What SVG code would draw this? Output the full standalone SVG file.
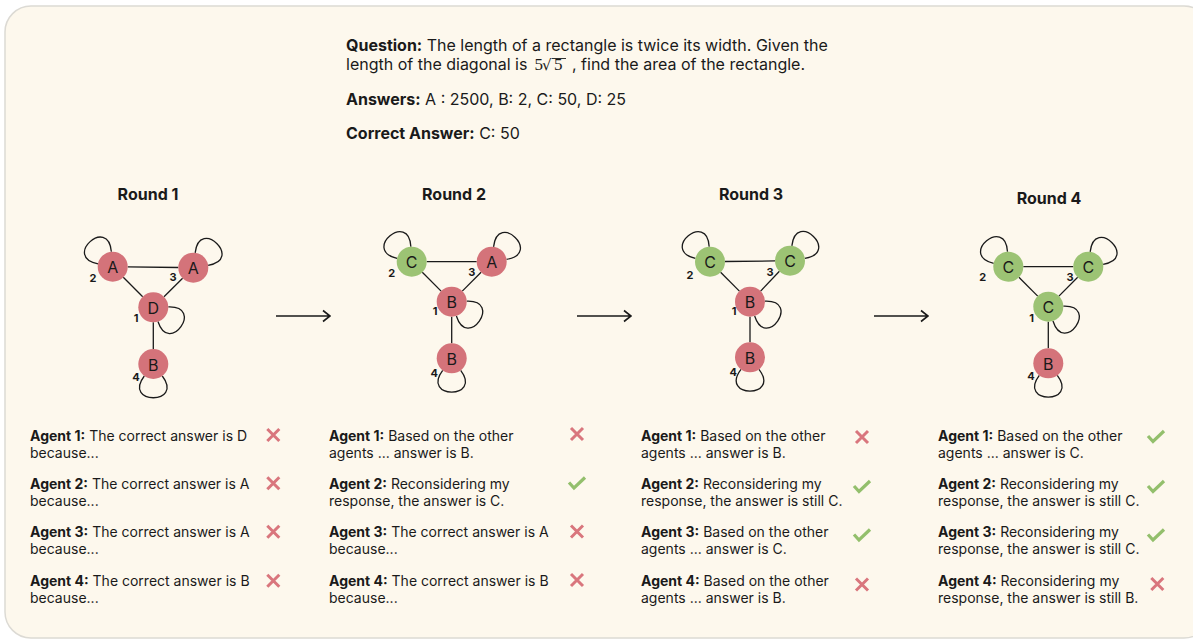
<svg xmlns="http://www.w3.org/2000/svg" width="1193" height="640" viewBox="0 0 1193 640">
<style>
  text { font-family: Inter, "Liberation Sans", sans-serif; fill: #1a1a1a; }
  .q { font-size: 16px; }
  .b { font-weight: bold; }
  .title { font-size: 16px; font-weight: bold; text-anchor: middle; }
  .ag { font-size: 14px; }
  .lbl { font-size: 11px; font-weight: bold; text-anchor: middle; }
  .nl { font-size: 16px; text-anchor: middle; dominant-baseline: central; }
  .red { fill: #d4737a; }
  .grn { fill: #9cc374; }
  .edge { stroke: #1a1a1a; stroke-width: 1.3; fill: none; }
  .loop { stroke: #1a1a1a; stroke-width: 1.3; fill: none; }
  .x { stroke: #d9767d; stroke-width: 3; fill: none; }
  .ck { stroke: #93bf6c; stroke-width: 3.2; fill: none; stroke-linejoin: miter; }
  .arr { stroke: #1a1a1a; stroke-width: 1.6; fill: none; }
  .math { font-family: "Liberation Serif", serif; font-size: 17px; }
  .rad { font-family: "DejaVu Serif", serif; font-size: 15px; }
</style>
<defs>
  <path id="lp" d="M -9,-12 C -31,-41 31,-41 9,-12"/>
  <g id="xm"><path class="x" d="M -6,-6 L 6,6 M 6,-6 L -6,6"/></g>
  <g id="cm"><path class="ck" d="M -8,-1 L -3,4.5 L 8,-6"/></g>
</defs>

<rect x="5" y="6" width="1205" height="632" rx="26" fill="#fdf8ed" stroke="#dcdad4" stroke-width="1.5"/>

<g id="question">
  <text class="q" x="346" y="51"><tspan class="b">Question:</tspan> The length of a rectangle is twice its width. Given the</text>
  <text class="q" x="346" y="70">length of the diagonal is</text>
  <text class="math" x="534.5" y="70">5<tspan class="rad" x="542" y="70">√</tspan><tspan x="554" y="70">5</tspan></text>
  <line x1="552" y1="58.5" x2="566" y2="58.5" stroke="#1a1a1a" stroke-width="0.9"/>
  <text class="q" x="572" y="70">, find the area of the rectangle.</text>
  <text class="q" x="346" y="105"><tspan class="b">Answers:</tspan> A : 2500, B: 2, C: 50, D: 25</text>
  <text class="q" x="346" y="139"><tspan class="b">Correct Answer:</tspan> C: 50</text>
</g>

<g id="titles">
  <text class="title" x="148" y="200">Round 1</text>
  <text class="title" x="454" y="200">Round 2</text>
  <text class="title" x="751" y="200">Round 3</text>
  <text class="title" x="1049" y="204">Round 4</text>
</g>

<g id="connectors">
  <!-- Round 1 -->
  <line class="edge" x1="127.7" y1="266.9" x2="178.3" y2="267.5"/>
  <line class="edge" x1="123.3" y1="277.3" x2="142.7" y2="296.7"/>
  <line class="edge" x1="182.6" y1="278.2" x2="164" y2="296.8"/>
  <line class="edge" x1="153.3" y1="322.3" x2="153.3" y2="349"/>
  <use href="#lp" class="loop" transform="translate(112.7,266.7) rotate(-42)"/>
  <use href="#lp" class="loop" transform="translate(193.3,267.7) rotate(44)"/>
  <use href="#lp" class="loop" transform="translate(153.3,307.3) rotate(125)"/>
  <use href="#lp" class="loop" transform="translate(153.3,364) rotate(180)"/>
  <!-- Round 2 -->
  <line class="edge" x1="426.7" y1="261.7" x2="476.7" y2="261.7"/>
  <line class="edge" x1="422.3" y1="272.3" x2="441.1" y2="291.1"/>
  <line class="edge" x1="481.1" y1="272.3" x2="462.3" y2="291.1"/>
  <line class="edge" x1="451.7" y1="316.7" x2="451.7" y2="343.3"/>
  <use href="#lp" class="loop" transform="translate(411.7,261.7) rotate(-40)"/>
  <use href="#lp" class="loop" transform="translate(491.7,261.7) rotate(44)"/>
  <use href="#lp" class="loop" transform="translate(451.7,301.7) rotate(125)"/>
  <use href="#lp" class="loop" transform="translate(451.7,358.3) rotate(180)"/>
  <!-- Round 3 -->
  <line class="edge" x1="725" y1="261.5" x2="775" y2="260.9"/>
  <line class="edge" x1="720.6" y1="272.3" x2="739.4" y2="291.1"/>
  <line class="edge" x1="779.4" y1="271.3" x2="760.6" y2="291.1"/>
  <line class="edge" x1="750" y1="316.7" x2="750" y2="342.3"/>
  <use href="#lp" class="loop" transform="translate(710,261.7) rotate(-40)"/>
  <use href="#lp" class="loop" transform="translate(790,260.7) rotate(44)"/>
  <use href="#lp" class="loop" transform="translate(750,301.7) rotate(125)"/>
  <use href="#lp" class="loop" transform="translate(750,357.3) rotate(180)"/>
  <!-- Round 4 -->
  <line class="edge" x1="1023.3" y1="266.7" x2="1073.3" y2="266.7"/>
  <line class="edge" x1="1018.9" y1="277.3" x2="1037.7" y2="296.1"/>
  <line class="edge" x1="1077.7" y1="277.3" x2="1058.9" y2="296.1"/>
  <line class="edge" x1="1048.3" y1="321.7" x2="1048.3" y2="348.3"/>
  <use href="#lp" class="loop" transform="translate(1008.3,266.7) rotate(-40)"/>
  <use href="#lp" class="loop" transform="translate(1088.3,266.7) rotate(44)"/>
  <use href="#lp" class="loop" transform="translate(1048.3,306.7) rotate(125)"/>
  <use href="#lp" class="loop" transform="translate(1048.3,363.3) rotate(180)"/>
  <!-- round arrows -->
  <path class="arr" d="M 276,316 L 330,316 M 323,310.5 L 330,316 L 323,321.5"/>
  <path class="arr" d="M 577,316 L 631,316 M 624,310.5 L 631,316 L 624,321.5"/>
  <path class="arr" d="M 874,316 L 928,316 M 921,310.5 L 928,316 L 921,321.5"/>
</g>

<!-- Round 1 nodes -->
<g id="r1-a2"><circle class="red" cx="112.7" cy="266.7" r="15"/><text class="nl" x="112.7" y="267.2">A</text><text class="lbl" x="93" y="282">2</text></g>
<g id="r1-a3"><circle class="red" cx="193.3" cy="267.7" r="15"/><text class="nl" x="193.3" y="268.2">A</text><text class="lbl" x="173" y="281">3</text></g>
<g id="r1-a1"><circle class="red" cx="153.3" cy="307.3" r="15"/><text class="nl" x="153.3" y="307.8">D</text><text class="lbl" x="136" y="322">1</text></g>
<g id="r1-a4"><circle class="red" cx="153.3" cy="364" r="15"/><text class="nl" x="153.3" y="364.5">B</text><text class="lbl" x="136" y="381">4</text></g>

<!-- Round 2 nodes -->
<g id="r2-a2"><circle class="grn" cx="411.7" cy="261.7" r="15"/><text class="nl" x="411.7" y="262.2">C</text><text class="lbl" x="391.7" y="276.5">2</text></g>
<g id="r2-a3"><circle class="red" cx="491.7" cy="261.7" r="15"/><text class="nl" x="491.7" y="262.2">A</text><text class="lbl" x="471.7" y="276">3</text></g>
<g id="r2-a1"><circle class="red" cx="451.7" cy="301.7" r="15"/><text class="nl" x="451.7" y="302.2">B</text><text class="lbl" x="435" y="314.5">1</text></g>
<g id="r2-a4"><circle class="red" cx="451.7" cy="358.3" r="15"/><text class="nl" x="451.7" y="358.8">B</text><text class="lbl" x="434.3" y="376.5">4</text></g>

<!-- Round 3 nodes -->
<g id="r3-a2"><circle class="grn" cx="710" cy="261.7" r="15"/><text class="nl" x="710" y="262.2">C</text><text class="lbl" x="690" y="278.8">2</text></g>
<g id="r3-a3"><circle class="grn" cx="790" cy="260.7" r="15"/><text class="nl" x="790" y="261.2">C</text><text class="lbl" x="770" y="275.8">3</text></g>
<g id="r3-a1"><circle class="red" cx="750" cy="301.7" r="15"/><text class="nl" x="750" y="302.2">B</text><text class="lbl" x="734" y="314.5">1</text></g>
<g id="r3-a4"><circle class="red" cx="750" cy="357.3" r="15"/><text class="nl" x="750" y="357.8">B</text><text class="lbl" x="733.3" y="375.5">4</text></g>

<!-- Round 4 nodes -->
<g id="r4-a2"><circle class="grn" cx="1008.3" cy="266.7" r="15"/><text class="nl" x="1008.3" y="267.2">C</text><text class="lbl" x="982.7" y="281">2</text></g>
<g id="r4-a3"><circle class="grn" cx="1088.3" cy="266.7" r="15"/><text class="nl" x="1088.3" y="267.2">C</text><text class="lbl" x="1070" y="280.5">3</text></g>
<g id="r4-a1"><circle class="grn" cx="1048.3" cy="306.7" r="15"/><text class="nl" x="1048.3" y="307.2">C</text><text class="lbl" x="1031.7" y="322">1</text></g>
<g id="r4-a4"><circle class="red" cx="1048.3" cy="363.3" r="15"/><text class="nl" x="1048.3" y="363.8">B</text><text class="lbl" x="1031" y="380">4</text></g>

<!-- Agent responses -->
<g id="responses-r1">
  <text class="ag" x="30" y="441"><tspan class="b">Agent 1:</tspan> The correct answer is D</text>
  <text class="ag" x="30" y="458">because...</text>
  <text class="ag" x="30" y="489"><tspan class="b">Agent 2:</tspan> The correct answer is A</text>
  <text class="ag" x="30" y="506">because...</text>
  <text class="ag" x="30" y="537"><tspan class="b">Agent 3:</tspan> The correct answer is A</text>
  <text class="ag" x="30" y="554">because...</text>
  <text class="ag" x="30" y="585.5"><tspan class="b">Agent 4:</tspan> The correct answer is B</text>
  <text class="ag" x="30" y="602.5">because...</text>
  <use href="#xm" transform="translate(273.3,435)"/>
  <use href="#xm" transform="translate(273.3,483.3)"/>
  <use href="#xm" transform="translate(273.3,531.7)"/>
  <use href="#xm" transform="translate(273.3,580.7)"/>
</g>
<g id="responses-r2">
  <text class="ag" x="329" y="441"><tspan class="b">Agent 1:</tspan> Based on the other</text>
  <text class="ag" x="329" y="458">agents ... answer is B.</text>
  <text class="ag" x="329" y="489"><tspan class="b">Agent 2:</tspan> Reconsidering my</text>
  <text class="ag" x="329" y="506">response, the answer is C.</text>
  <text class="ag" x="329" y="537"><tspan class="b">Agent 3:</tspan> The correct answer is A</text>
  <text class="ag" x="329" y="554">because...</text>
  <text class="ag" x="329" y="585.5"><tspan class="b">Agent 4:</tspan> The correct answer is B</text>
  <text class="ag" x="329" y="602.5">because...</text>
  <use href="#xm" transform="translate(577,434)"/>
  <use href="#cm" transform="translate(577,483.5)"/>
  <use href="#xm" transform="translate(577,531.5)"/>
  <use href="#xm" transform="translate(577,580)"/>
</g>
<g id="responses-r3">
  <text class="ag" x="641" y="441"><tspan class="b">Agent 1:</tspan> Based on the other</text>
  <text class="ag" x="641" y="458">agents ... answer is B.</text>
  <text class="ag" x="641" y="489"><tspan class="b">Agent 2:</tspan> Reconsidering my</text>
  <text class="ag" x="641" y="506">response, the answer is still C.</text>
  <text class="ag" x="641" y="537"><tspan class="b">Agent 3:</tspan> Based on the other</text>
  <text class="ag" x="641" y="554">agents ... answer is C.</text>
  <text class="ag" x="641" y="585.5"><tspan class="b">Agent 4:</tspan> Based on the other</text>
  <text class="ag" x="641" y="602.5">agents ... answer is B.</text>
  <use href="#xm" transform="translate(862,437)"/>
  <use href="#cm" transform="translate(862,487)"/>
  <use href="#cm" transform="translate(862,535.5)"/>
  <use href="#xm" transform="translate(862,584.5)"/>
</g>
<g id="responses-r4">
  <text class="ag" x="938" y="441"><tspan class="b">Agent 1:</tspan> Based on the other</text>
  <text class="ag" x="938" y="458">agents ... answer is C.</text>
  <text class="ag" x="938" y="489"><tspan class="b">Agent 2:</tspan> Reconsidering my</text>
  <text class="ag" x="938" y="506">response, the answer is still C.</text>
  <text class="ag" x="938" y="537"><tspan class="b">Agent 3:</tspan> Reconsidering my</text>
  <text class="ag" x="938" y="554">response, the answer is still C.</text>
  <text class="ag" x="938" y="585.5"><tspan class="b">Agent 4:</tspan> Reconsidering my</text>
  <text class="ag" x="938" y="602.5">response, the answer is still B.</text>
  <use href="#cm" transform="translate(1156,437)"/>
  <use href="#cm" transform="translate(1156,487)"/>
  <use href="#cm" transform="translate(1156,535.5)"/>
  <use href="#xm" transform="translate(1157.3,584)"/>
</g>
</svg>
